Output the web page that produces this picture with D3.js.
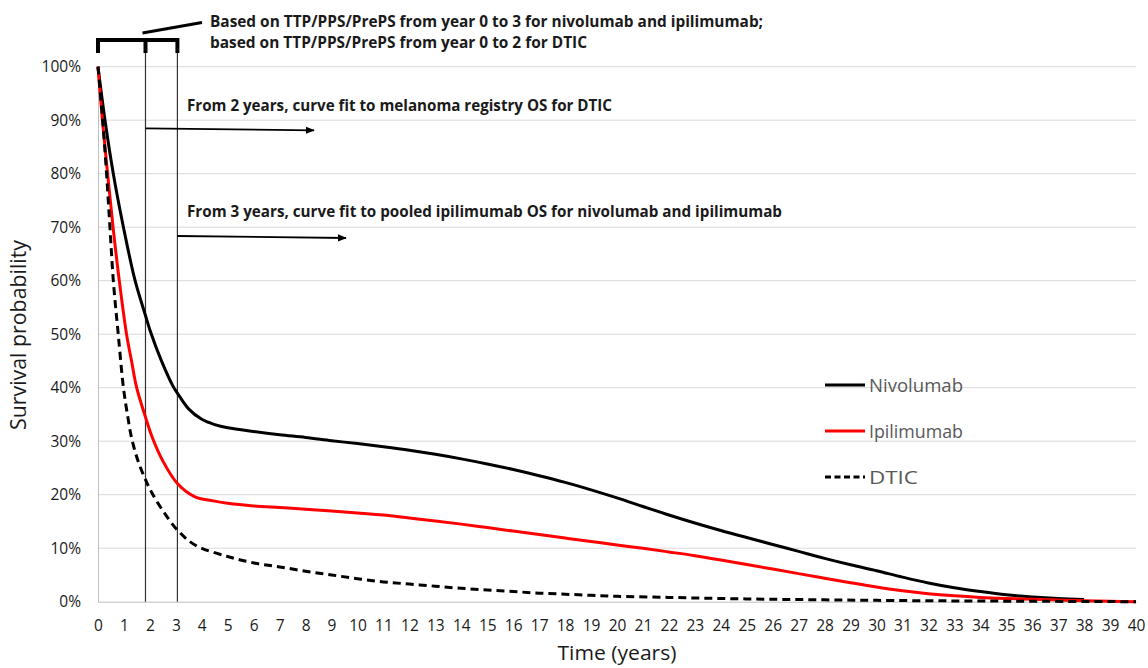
<!DOCTYPE html>
<html><head><meta charset="utf-8">
<script src="https://cdn.jsdelivr.net/npm/d3@7"></script>
<style>body{margin:0;background:#fff;} svg{display:block;}</style>
</head><body>
<svg id="chart" width="1148" height="668"></svg>
<script>
// ---- data ----
const xTicks = d3.range(0, 41);
const yTicks = [0, 0.1, 0.2, 0.3, 0.4, 0.5, 0.6, 0.7, 0.8, 0.9, 1.0];
const seriesNames = ["Nivolumab", "Ipilimumab", "DTIC"];

const nivoYears = [0, 0.27, 0.59, 0.98, 1.43, 1.83, 2.0, 2.43, 2.9, 3.06, 3.5, 4, 4.5, 5, 6, 7, 8, 9, 10, 11, 12, 13, 14, 15, 16, 17, 18, 19, 20, 21, 22, 23, 24, 25, 26, 27, 28, 29, 30, 31, 32, 33, 34, 35, 36, 37, 38];
const nivoSurv  = [1.00, 0.90, 0.80, 0.70, 0.60, 0.535, 0.508, 0.452, 0.402, 0.390, 0.360, 0.341, 0.331, 0.325, 0.318, 0.312, 0.307, 0.301, 0.2955, 0.2895, 0.283, 0.2755, 0.267, 0.2575, 0.247, 0.2355, 0.223, 0.209, 0.194, 0.178, 0.162, 0.147, 0.133, 0.120, 0.107, 0.094, 0.081, 0.069, 0.058, 0.046, 0.035, 0.026, 0.019, 0.013, 0.009, 0.006, 0.004];

const ipiYears = [0, 0.17, 0.37, 0.58, 0.82, 1.1, 1.3, 1.49, 1.83, 2.1, 2.5, 3.06, 3.74, 4.5, 5, 6, 7, 8, 9, 10, 11, 12, 13, 14, 15, 16, 17, 18, 19, 20, 21, 22, 23, 24, 25, 26, 27, 28, 29, 30, 31, 32, 33, 34, 35, 36, 37, 38, 39, 40];
const ipiSurv  = [1.00, 0.90, 0.80, 0.70, 0.60, 0.50, 0.448, 0.40, 0.345, 0.306, 0.263, 0.221, 0.196, 0.188, 0.184, 0.179, 0.176, 0.173, 0.1697, 0.166, 0.162, 0.1565, 0.151, 0.145, 0.1385, 0.132, 0.1255, 0.119, 0.1125, 0.106, 0.0998, 0.093, 0.086, 0.078, 0.0695, 0.061, 0.0525, 0.044, 0.0355, 0.0275, 0.0205, 0.015, 0.011, 0.008, 0.006, 0.0045, 0.003, 0.002, 0.001, 0.0];

const dticYears = [0, 0.18, 0.33, 0.46, 0.59, 0.78, 0.98, 1.15, 1.3, 1.55, 1.83, 2.07, 2.5, 3.06, 3.74, 5.03, 6.06, 7, 8, 9, 10, 11, 12, 13, 14, 15, 16, 17, 18, 19, 20, 22, 24, 26, 28, 30, 33, 36, 40];
const dticSurv  = [1.00, 0.90, 0.80, 0.70, 0.60, 0.50, 0.40, 0.345, 0.305, 0.262, 0.228, 0.204, 0.170, 0.134, 0.106, 0.084, 0.072, 0.065, 0.057, 0.050, 0.043, 0.037, 0.033, 0.029, 0.025, 0.022, 0.019, 0.016, 0.014, 0.012, 0.010, 0.008, 0.006, 0.0045, 0.0035, 0.0025, 0.0015, 0.0008, 0.0];

const markerYears = [1.83, 3.06];
const annotations = [
  "Based on TTP/PPS/PrePS from year 0 to 3 for nivolumab and ipilimumab;",
  "based on TTP/PPS/PrePS from year 0 to 2 for DTIC",
  "From 2 years, curve fit to melanoma registry OS for DTIC",
  "From 3 years, curve fit to pooled ipilimumab OS for nivolumab and ipilimumab"
];

// ---- layout ----
const svg = d3.select("#chart");
const m = {left: 98, right: 1136, top: 66.7, bottom: 601.7};
const x = d3.scaleLinear().domain([0, 40]).range([m.left, m.right]);
const y = d3.scaleLinear().domain([0, 1]).range([m.bottom, m.top]);
const font = "'Open Sans', 'Noto Sans', sans-serif";

// gridlines
svg.append("g").selectAll("line").data(yTicks.filter(d => d > 0)).join("line")
  .attr("x1", m.left).attr("x2", m.right)
  .attr("y1", d => y(d)).attr("y2", d => y(d))
  .attr("stroke", "#d9d9d9").attr("stroke-width", 1);

// axes
const yAxis = d3.axisLeft(y).tickValues(yTicks).tickFormat(d3.format(".0%")).tickSize(0).tickPadding(17);
const gy = svg.append("g").attr("transform", `translate(${m.left},0)`).call(yAxis);
gy.select(".domain").attr("stroke", "#bfbfbf");
gy.selectAll("text").attr("font-family", font).attr("font-size", 15.5).attr("fill", "#1a1a1a");

const xAxis = d3.axisBottom(x).tickValues(xTicks).tickFormat(d3.format("d")).tickSize(0).tickPadding(18);
const gx = svg.append("g").attr("transform", `translate(0,${m.bottom})`).call(xAxis);
gx.select(".domain").attr("stroke", "#bfbfbf");
gx.selectAll("text").attr("font-family", font).attr("font-size", 15.5).attr("fill", "#1a1a1a");

// axis titles
svg.append("text").attr("x", 617).attr("y", 660).attr("text-anchor", "middle")
  .attr("font-family", font).attr("font-size", 20).attr("fill", "#1a1a1a")
  .attr("textLength", 119).attr("lengthAdjust", "spacingAndGlyphs").text("Time (years)");
svg.append("text").attr("transform", "translate(26,335) rotate(-90)").attr("text-anchor", "middle")
  .attr("font-family", font).attr("font-size", 21).attr("fill", "#1a1a1a")
  .attr("textLength", 190).attr("lengthAdjust", "spacingAndGlyphs").text("Survival probability");

// marker vertical lines
svg.append("g").selectAll("line").data(markerYears).join("line")
  .attr("x1", d => x(d)).attr("x2", d => x(d))
  .attr("y1", 40).attr("y2", m.bottom)
  .attr("stroke", "#333").attr("stroke-width", 1.2);

// bracket
const bx0 = x(0), bx1 = x(markerYears[0]), bx2 = x(markerYears[1]);
svg.append("path")
  .attr("d", `M${bx0},53 V40 H${bx2} V53 M${bx1},40 V53`)
  .attr("fill", "none").attr("stroke", "#000").attr("stroke-width", 4);
svg.append("line").attr("x1", bx1 - 3).attr("y1", 33).attr("x2", 202).attr("y2", 22.5)
  .attr("stroke", "#000").attr("stroke-width", 3);

// arrows
const defs = svg.append("defs");
defs.append("marker").attr("id", "arrow").attr("viewBox", "0 0 10 10").attr("refX", 9).attr("refY", 5)
  .attr("markerWidth", 5).attr("markerHeight", 5).attr("orient", "auto")
  .append("path").attr("d", "M0,1 L10,5 L0,9 Z").attr("fill", "#000");
svg.append("line").attr("x1", bx1).attr("y1", 128.3).attr("x2", 314).attr("y2", 130.3)
  .attr("stroke", "#000").attr("stroke-width", 1.8).attr("marker-end", "url(#arrow)");
svg.append("line").attr("x1", bx2).attr("y1", 236).attr("x2", 346).attr("y2", 238)
  .attr("stroke", "#000").attr("stroke-width", 1.8).attr("marker-end", "url(#arrow)");

// annotation text
const annPos = [[210, 27, 553], [210, 48, 377], [187, 111, 425], [187, 217, 595]];
annotations.forEach((t, i) => {
  svg.append("text").attr("x", annPos[i][0]).attr("y", annPos[i][1])
    .attr("font-family", font).attr("font-weight", "bold").attr("font-size", 16)
    .attr("fill", "#1a1a1a")
    .attr("textLength", annPos[i][2]).attr("lengthAdjust", "spacingAndGlyphs")
    .text(t);
});

// curves
const line = d3.line().x(d => x(d[0])).y(d => y(d[1])).curve(d3.curveCatmullRom.alpha(0.5));
const series = [
  {name: seriesNames[0], pts: d3.zip(nivoYears, nivoSurv), color: "#000", dash: null},
  {name: seriesNames[1], pts: d3.zip(ipiYears, ipiSurv), color: "#ff0000", dash: null},
  {name: seriesNames[2], pts: d3.zip(dticYears, dticSurv), color: "#000", dash: "8,5"}
];
svg.append("g").selectAll("path").data(series).join("path")
  .attr("d", d => line(d.pts))
  .attr("fill", "none").attr("stroke", d => d.color).attr("stroke-width", 3)
  .attr("stroke-dasharray", d => d.dash);

// legend
const legY = [385, 431, 477];
const legW = [94, 94, 49];
const lg = svg.append("g").selectAll("g").data(series).join("g")
  .attr("transform", (d, i) => `translate(825,${legY[i]})`);
lg.append("line").attr("x1", 0).attr("x2", 40).attr("y1", 0).attr("y2", 0)
  .attr("stroke", d => d.color).attr("stroke-width", 3)
  .attr("stroke-dasharray", d => d.dash ? "6,3.5" : null);
lg.append("text").attr("x", 44).attr("y", 6.5).attr("font-family", font).attr("font-size", 18)
  .attr("fill", "#595959")
  .attr("textLength", (d, i) => legW[i]).attr("lengthAdjust", "spacingAndGlyphs")
  .text(d => d.name);
</script>
</body></html>
